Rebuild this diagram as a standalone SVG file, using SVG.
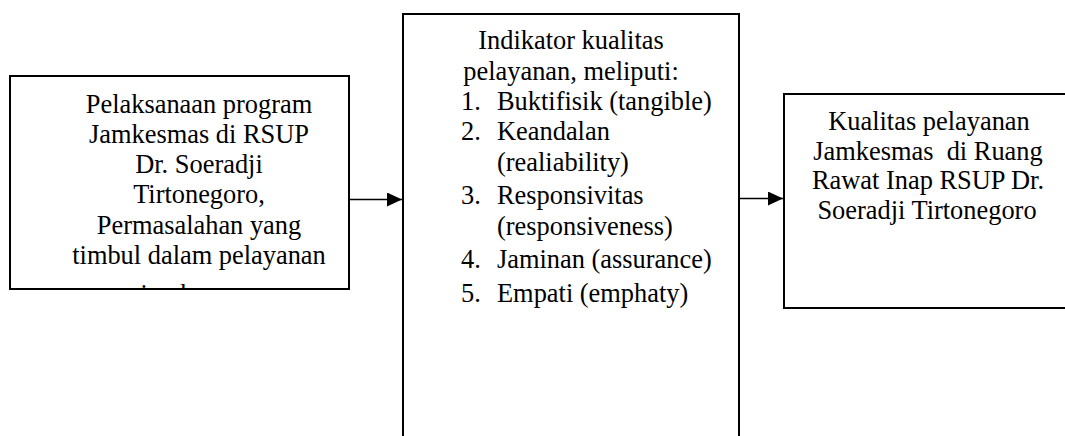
<svg xmlns="http://www.w3.org/2000/svg" width="1065" height="436" viewBox="0 0 1065 436" font-family="Liberation Serif, Times New Roman, Tinos, serif" font-size="26.4">
  <defs>
    <marker id="arrow" markerWidth="16" markerHeight="14" refX="15" refY="7" orient="auto" markerUnits="userSpaceOnUse">
      <path d="M0,0 L15,7 L0,14 Z" fill="#000000"/>
    </marker>
    <clipPath id="clipLeft">
      <rect x="11" y="77" width="337" height="211"/>
    </clipPath>
  </defs>
  <rect width="1065" height="436" fill="#ffffff"/>

  <g id="node-pelaksanaan">
    <rect x="10" y="76" width="339" height="213" fill="#ffffff" stroke="#000000" stroke-width="2"/>
    <g clip-path="url(#clipLeft)" text-anchor="middle">
      <text x="199" y="112.5">Pelaksanaan program</text>
      <text x="199" y="142.8">Jamkesmas di RSUP</text>
      <text x="199" y="173">Dr. Soeradji</text>
      <text x="199" y="203.3">Tirtonegoro,</text>
      <text x="199" y="233.6">Permasalahan yang</text>
      <text x="199" y="264">timbul dalam pelayanan</text>
      <text x="199" y="303">jamkesmas</text>
    </g>
  </g>

  <g id="node-indikator">
    <path d="M403,445 L403,14 L739,14 L739,445" fill="#ffffff" stroke="#000000" stroke-width="2"/>
    <text x="571" y="49.3" text-anchor="middle">Indikator kualitas</text>
    <text x="571" y="79.5" text-anchor="middle">pelayanan, meliputi:</text>
    <text x="461" y="110">1.</text>
    <text x="497" y="110">Buktifisik (tangible)</text>
    <text x="461" y="140.3">2.</text>
    <text x="497" y="140.3">Keandalan</text>
    <text x="497" y="170.8">(realiability)</text>
    <text x="461" y="204">3.</text>
    <text x="497" y="204">Responsivitas</text>
    <text x="497" y="235">(responsiveness)</text>
    <text x="461" y="268">4.</text>
    <text x="497" y="268">Jaminan (assurance)</text>
    <text x="461" y="301.7">5.</text>
    <text x="497" y="301.7">Empati (emphaty)</text>
  </g>

  <g id="node-kualitas">
    <rect x="784" y="94" width="300" height="214" fill="#ffffff" stroke="#000000" stroke-width="2"/>
    <text x="929" y="130" text-anchor="middle">Kualitas pelayanan</text>
    <text x="928" y="159.5" text-anchor="middle">Jamkesmas&#160; di Ruang</text>
    <text x="928" y="189" text-anchor="middle">Rawat Inap RSUP Dr.</text>
    <text x="927" y="218.5" text-anchor="middle">Soeradji Tirtonegoro</text>
  </g>

  <g id="connectors" stroke="#000000" stroke-width="1.3" fill="none">
    <line x1="350" y1="199.5" x2="402" y2="199.5" marker-end="url(#arrow)"/>
    <line x1="740" y1="198.5" x2="783" y2="198.5" marker-end="url(#arrow)"/>
  </g>
</svg>
